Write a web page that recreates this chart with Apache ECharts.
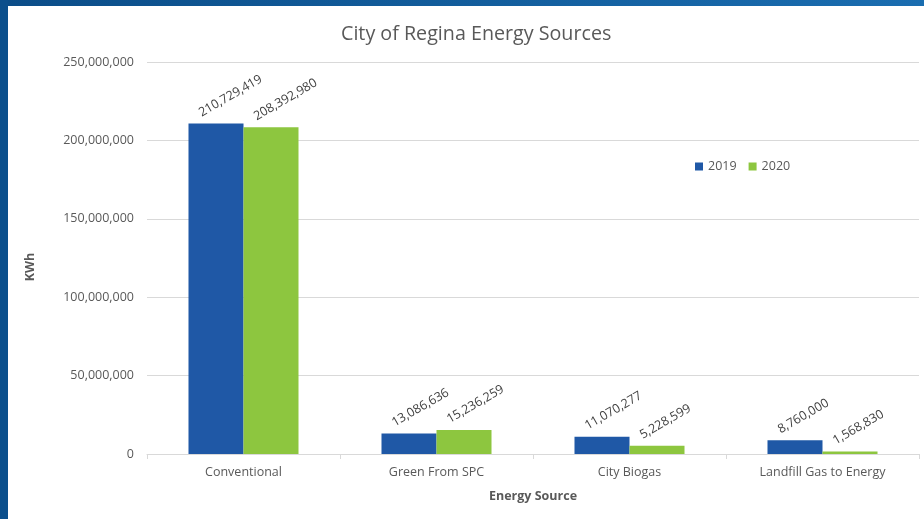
<!DOCTYPE html>
<html><head><meta charset="utf-8">
<script src="https://cdn.jsdelivr.net/npm/echarts@6/dist/echarts.min.js"></script>
<style>html,body{margin:0;padding:0;background:#fff}#c{width:924px;height:519px}</style>
</head><body><div id="c"></div>
<script>
const categories = ["Conventional", "Green From SPC", "City Biogas", "Landfill Gas to Energy"];
const values2019 = [210729419, 13086636, 11070277, 8760000];
const values2020 = [208392980, 15236259, 5228599, 1568830];
const seriesNames = ["2019", "2020"];
const yTicks = { min: 0, max: 250000000, interval: 50000000 };

const fmt = v => v.toLocaleString('en-US');
const font = "'Open Sans', 'Liberation Sans', sans-serif";
const chart = echarts.init(document.getElementById('c'), null, { renderer: 'canvas' });
const labelCfg = {
  show: true, position: 'top', rotate: 30, align: 'left', verticalAlign: 'middle',
  distance: 10, offset: [-14, -8], color: '#404040', fontSize: 12.5, fontFamily: font,
  formatter: p => fmt(p.value)
};
chart.setOption({
  backgroundColor: '#ffffff',
  animation: false,
  graphic: [
    { type: 'rect', left: 0, top: 0, shape: { width: 924, height: 6 }, style: { fill: new echarts.graphic.LinearGradient(0,0,1,0,[{offset:0,color:'#0b4d88'},{offset:1,color:'#1a6db0'}]) }, z: 10 },
    { type: 'rect', left: 0, top: 0, shape: { width: 8, height: 519 }, style: { fill: '#0b4f8c' }, z: 10 }
  ],
  title: {
    text: 'City of Regina Energy Sources', left: 336, top: 19,
    textStyle: { fontSize: 19.7, fontWeight: 'normal', color: '#595959', fontFamily: font }
  },
  legend: {
    data: seriesNames, left: 690, top: 155, itemWidth: 8, itemHeight: 8, itemGap: 12,
    icon: 'rect', textStyle: { fontSize: 12.5, color: '#595959', fontFamily: font }
  },
  grid: { left: 147, right: 5, top: 62, bottom: 65, containLabel: false },
  xAxis: {
    type: 'category', data: categories,
    name: 'Energy Source', nameLocation: 'middle', nameGap: 36,
    nameTextStyle: { fontSize: 12.5, fontWeight: 'bold', color: '#595959', fontFamily: font },
    axisLine: { lineStyle: { color: '#d9d9d9' } },
    axisTick: { show: true, length: 5, lineStyle: { color: '#d9d9d9' } },
    axisLabel: { fontSize: 12.5, color: '#595959', fontFamily: font, margin: 12 }
  },
  yAxis: {
    type: 'value', min: yTicks.min, max: yTicks.max, interval: yTicks.interval,
    name: 'KWh', nameLocation: 'middle', nameGap: 110, nameRotate: 90,
    nameTextStyle: { fontSize: 12.5, fontWeight: 'bold', color: '#595959', fontFamily: font, padding: [0, 18, 0, 0] },
    axisLine: { show: false }, axisTick: { show: false },
    splitLine: { lineStyle: { color: '#d9d9d9' } },
    axisLabel: { fontSize: 12.5, color: '#595959', fontFamily: font, margin: 13, formatter: v => fmt(v) }
  },
  series: [
    { name: seriesNames[0], type: 'bar', data: values2019, barGap: '0%', barCategoryGap: '43%',
      itemStyle: { color: '#1f58a6' }, label: labelCfg },
    { name: seriesNames[1], type: 'bar', data: values2020, barGap: '0%', barCategoryGap: '43%',
      itemStyle: { color: '#8dc63f' }, label: labelCfg }
  ]
});
</script></body></html>
